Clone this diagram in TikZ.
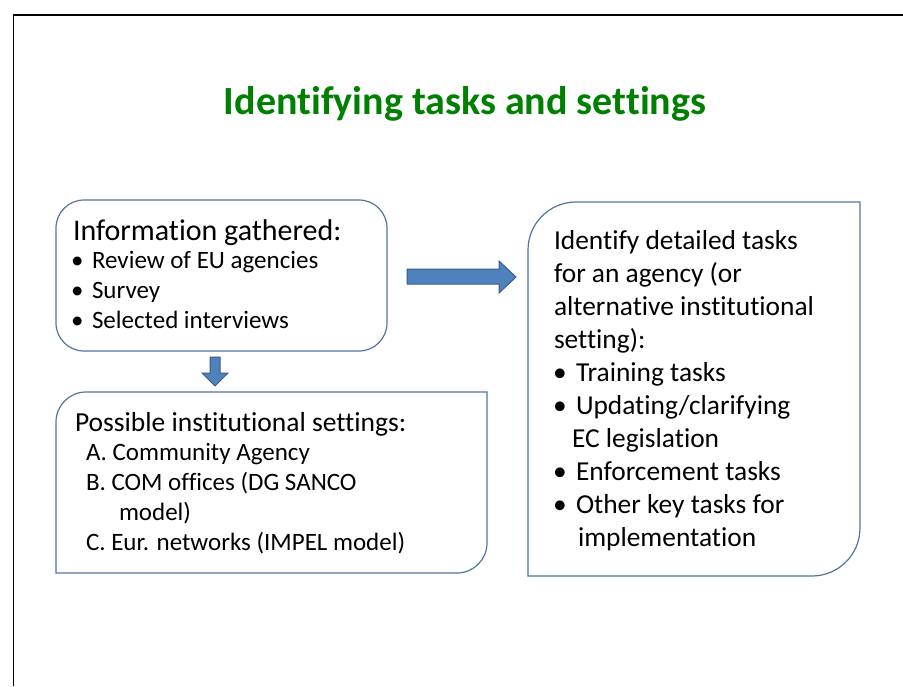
\documentclass[tikz,border=0pt]{standalone}
\usepackage{fontspec}
\setmainfont{Carlito}[Ligatures={NoCommon}]
\definecolor{titlegreen}{RGB}{0,128,0}
\definecolor{boxblue}{RGB}{84,115,165}
\definecolor{arrowfill}{RGB}{79,129,189}
\definecolor{arrowdraw}{RGB}{56,93,138}
\begin{document}
\begin{tikzpicture}[x=1pt,y=-1pt,
  boxline/.style={draw=boxblue,line width=1.2pt},
  blockarrow/.style={fill=arrowfill,draw=arrowdraw,line width=1pt,line join=miter},
  txt/.style={anchor=base west,inner sep=0pt,outer sep=0pt,text=black},
  head/.style={txt,font=\fontsize{30}{34}\selectfont},
  item/.style={txt,font=\fontsize{25}{29}\selectfont},
  ritem/.style={txt,font=\fontsize{27.4}{31}\selectfont},
  bul/.style={txt,font=\fontsize{25}{29}\selectfont}]
\useasboundingbox (0,0) rectangle (903,686);
\fill[white] (0,0) rectangle (903,686);
% frame
\draw[black,line width=1.5pt] (13.5,686) -- (13.5,15) -- (903,15);
% title
\node[anchor=base,inner sep=0pt,text=titlegreen,font=\fontsize{40}{44}\selectfont\bfseries] (title) at (465,114) {Identifying tasks and settings};
% box 1
\draw[boxline,rounded corners=28pt] (56,200) rectangle (387,351);
\node[head] (h1) at (73,240) {Information gathered:};
\node[bul] (b11) at (71,268) {•};
\node[item] (i11) at (92,268) {Review of EU agencies};
\node[bul] (b12) at (71,298) {•};
\node[item] (i12) at (92,298) {Survey};
\node[bul] (b13) at (71,328) {•};
\node[item] (i13) at (92,328) {Selected interviews};
% down arrow
\draw[blockarrow] (210,357) -- (220,357) -- (220,373) -- (228,373) -- (215,386) -- (202,373) -- (210,373) -- cycle;
% box 2
\draw[boxline] (56,573) -- (56,422) arc[start angle=180,end angle=270,radius=30] -- (487,392) -- (487,543) arc[start angle=0,end angle=90,radius=30] -- cycle;
\node[head,font=\fontsize{27.5}{31}\selectfont] (h2) at (75,431) {Possible institutional settings:};
\node[item] (i21) at (86,460) {A. Community Agency};
\node[item] (i22) at (86,490) {B. COM offices (DG SANCO};
\node[item] (i22b) at (119,520) {model)};
\node[item] (i23) at (86,550) {C. Eur. networks (IMPEL model)};
% right arrow
\draw[blockarrow] (407,269) -- (499,269) -- (499,261) -- (516,277) -- (499,293) -- (499,284) -- (407,284) -- cycle;
% box 3
\draw[boxline] (528,576) -- (528,250) arc[start angle=180,end angle=270,radius=48] -- (860,202) -- (860,528) arc[start angle=0,end angle=90,radius=48] -- cycle;
\node[ritem] (r1) at (554,249) {Identify detailed tasks};
\node[ritem] (r2) at (554,282) {for an agency (or};
\node[ritem] (r3) at (554,315) {alternative institutional};
\node[ritem] (r4) at (554,348) {setting):};
\node[ritem] (rb1) at (553,381) {•};
\node[ritem] (r5) at (576,381) {Training tasks};
\node[ritem] (rb2) at (553,414) {•};
\node[ritem] (r6) at (576,414) {Updating/clarifying};
\node[ritem] (r7) at (572,447) {EC legislation};
\node[ritem] (rb3) at (553,480) {•};
\node[ritem] (r8) at (576,480) {Enforcement tasks};
\node[ritem] (rb4) at (553,513) {•};
\node[ritem] (r9) at (576,513) {Other key tasks for};
\node[ritem] (r10) at (578,546) {implementation};
\end{tikzpicture}
\end{document}
